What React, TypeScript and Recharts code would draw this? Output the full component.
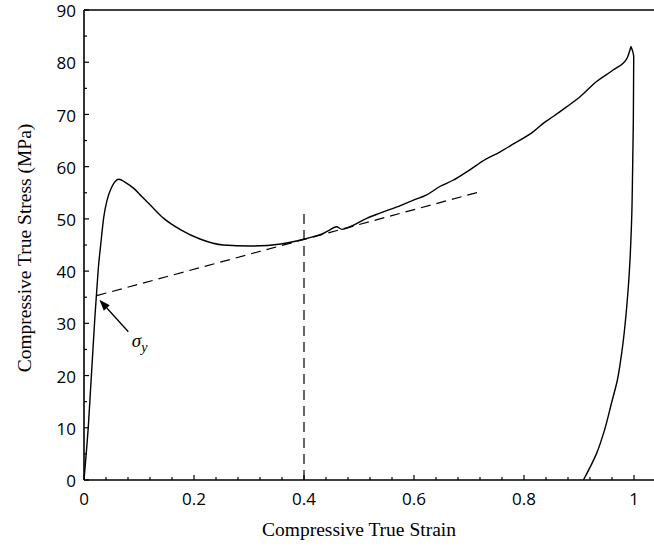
import {
  Customized,
  Line,
  LineChart,
  ReferenceDot,
  ReferenceLine,
  XAxis,
  YAxis,
} from "recharts";

// Loading branch (strain increasing up to the peak)
const loadStrain = [
  0, 0.004, 0.008, 0.012, 0.016, 0.02, 0.023, 0.026, 0.03, 0.036, 0.042, 0.05,
  0.0636, 0.075, 0.091, 0.105, 0.121, 0.145, 0.176, 0.212, 0.253, 0.303, 0.358,
  0.399, 0.417, 0.435, 0.447, 0.459, 0.469, 0.484, 0.514, 0.538, 0.569, 0.599,
  0.623, 0.647, 0.671, 0.7, 0.73, 0.756, 0.78, 0.817, 0.835, 0.853, 0.878,
  0.902, 0.932, 0.962, 0.987, 0.9945,
];
const loadStress = [
  0, 5, 10.5, 17.5, 24.5, 31.5, 36, 40.5, 44.7, 50.4, 53.6, 56, 57.6, 57.0,
  55.8, 54.3, 52.6, 50.1, 47.9, 46.1, 45.0, 44.8, 45.2, 46.1, 46.6, 47.2, 47.9,
  48.5, 48.0, 48.5, 50.1, 51.1, 52.3, 53.6, 54.6, 56.2, 57.4, 59.3, 61.4, 62.8,
  64.3, 66.7, 68.3, 69.6, 71.5, 73.4, 76.3, 78.5, 80.7, 83.0,
];

// Unloading branch (stress falling back to zero)
const unloadStrain = [
  0.9945, 0.9995, 0.9988, 0.9975, 0.9957, 0.9897, 0.9776, 0.9697, 0.959, 0.9465,
  0.932, 0.908,
];
const unloadStress = [83.0, 81, 68.9, 59.4, 49.8, 37, 24.3, 19.1, 14.7, 9.6, 5.1, 0];

// Hardening slope fit and the strain where it is evaluated
const fitStart = { strain: 0.023, stress: 35.3 };
const fitEnd = { strain: 0.72, stress: 55.2 };
const markerStrain = 0.4;
const markerTop = 51.5;

// Yield point callout
const yieldTip = { strain: 0.028, stress: 34.5 };
const yieldTail = { strain: 0.0806, stress: 28.4 };
const yieldLabelAt = { strain: 0.087, stress: 25.5 };

const strainMajor = [0, 0.2, 0.4, 0.6, 0.8, 1];
const strainLabels = ["0", "0.2", "0.4", "0.6", "0.8", "1"];
const strainTicks = Array.from({ length: 26 }, (_, i) => +(i * 0.04).toFixed(2));
const stressMajor = [0, 10, 20, 30, 40, 50, 60, 70, 80, 90];
const stressTicks = Array.from({ length: 19 }, (_, i) => i * 5);

const loading = loadStrain.map((s, i) => ({ strain: s, stress: loadStress[i] }));
const unloading = unloadStrain.map((s, i) => ({ strain: s, stress: unloadStress[i] }));

const W = 654;
const H = 546;
const LEFT = 84;
const TOP = 10;
const BOTTOM = 480;
const tickFont = "'Open Sans', sans-serif";
const titleFont = "'Liberation Serif', 'DejaVu Serif', serif";

const isMajorStrain = (v: number) => strainMajor.some((m) => Math.abs(m - v) < 1e-6);

const BottomTick = ({ x, payload }: any) => {
  const i = strainMajor.findIndex((m) => Math.abs(m - payload.value) < 1e-6);
  const major = i >= 0;
  return (
    <g>
      <line x1={x} x2={x} y1={BOTTOM} y2={BOTTOM - (major ? 5 : 3)} stroke="#000" strokeWidth={1.2} />
      {major && (
        <text x={x} y={BOTTOM + 25} textAnchor="middle" fontFamily={tickFont} fontSize={17} fill="#000">
          {strainLabels[i]}
        </text>
      )}
    </g>
  );
};

const TopTick = ({ x, payload }: any) => (
  <line
    x1={x}
    x2={x}
    y1={TOP}
    y2={TOP + (isMajorStrain(payload.value) ? 5 : 3)}
    stroke="#000"
    strokeWidth={1.2}
  />
);

const LeftTick = ({ y, payload }: any) => {
  const major = stressMajor.includes(payload.value);
  return (
    <g>
      <line x1={LEFT} x2={LEFT + (major ? 5 : 3)} y1={y} y2={y} stroke="#000" strokeWidth={1.2} />
      {major && (
        <text x={LEFT - 8} y={y + 1} dy="0.36em" textAnchor="end" fontFamily={tickFont} fontSize={17} fill="#000">
          {payload.value}
        </text>
      )}
    </g>
  );
};

const Arrow = ({ x1, y1, x2, y2 }: any) => {
  const a = Math.atan2(y2 - y1, x2 - x1);
  const len = 11;
  const half = 4;
  const bx = x2 - len * Math.cos(a);
  const by = y2 - len * Math.sin(a);
  const px = -Math.sin(a) * half;
  const py = Math.cos(a) * half;
  return (
    <g>
      <line x1={x1} y1={y1} x2={bx} y2={by} stroke="#000" strokeWidth={1.3} />
      <polygon points={`${x2},${y2} ${bx + px},${by + py} ${bx - px},${by - py}`} fill="#000" />
    </g>
  );
};

const SigmaLabel = ({ cx, cy }: any) => (
  <text x={cx} y={cy} fontFamily={titleFont} fontStyle="italic" fontSize={19} fill="#000">
    σ
    <tspan fontSize={14} dy={5}>
      y
    </tspan>
  </text>
);

const Titles = () => (
  <g fontFamily={titleFont} fontSize={19.5} fill="#000">
    <text x={359} y={536} textAnchor="middle">
      Compressive True Strain
    </text>
    <text x={31} y={248} textAnchor="middle" transform="rotate(-90 31 248)">
      Compressive True Stress (MPa)
    </text>
  </g>
);

export default function App() {
  const xMax = (W - LEFT) / 550;
  return (
    <div style={{ position: "absolute", left: 0, top: 0, width: W, height: H, overflow: "hidden", background: "#fff" }}>
      <LineChart width={W} height={H} margin={{ top: 0, right: 0, bottom: 10, left: 24 }}>
        <XAxis
          xAxisId={0}
          type="number"
          dataKey="strain"
          domain={[0, xMax]}
          ticks={strainTicks}
          interval={0}
          tickSize={0}
          tick={<BottomTick />}
          axisLine={{ stroke: "#000", strokeWidth: 1.6 }}
          height={56}
          allowDataOverflow
        />
        <XAxis
          xAxisId="top"
          orientation="top"
          type="number"
          domain={[0, xMax]}
          ticks={strainTicks}
          interval={0}
          tickSize={0}
          tick={<TopTick />}
          axisLine={{ stroke: "#000", strokeWidth: 1.6 }}
          height={10}
          allowDataOverflow
        />
        <YAxis
          type="number"
          domain={[0, 90]}
          ticks={stressTicks}
          interval={0}
          tickSize={0}
          tick={<LeftTick />}
          axisLine={{ stroke: "#000", strokeWidth: 1.6 }}
          width={60}
        />
        <ReferenceLine
          segment={[
            { x: markerStrain, y: 0 },
            { x: markerStrain, y: markerTop },
          ]}
          stroke="#000"
          strokeWidth={1.2}
          strokeDasharray="10 6"
        />
        <ReferenceLine
          segment={[
            { x: fitStart.strain, y: fitStart.stress },
            { x: fitEnd.strain, y: fitEnd.stress },
          ]}
          stroke="#000"
          strokeWidth={1.2}
          strokeDasharray="10 6"
        />
        <Line
          data={loading}
          dataKey="stress"
          type="monotone"
          stroke="#000"
          strokeWidth={1.4}
          dot={false}
          isAnimationActive={false}
        />
        <Line
          data={unloading}
          dataKey="stress"
          type="monotoneY"
          stroke="#000"
          strokeWidth={1.4}
          dot={false}
          isAnimationActive={false}
        />
        <ReferenceLine
          segment={[
            { x: yieldTail.strain, y: yieldTail.stress },
            { x: yieldTip.strain, y: yieldTip.stress },
          ]}
          shape={<Arrow />}
        />
        <ReferenceDot x={yieldLabelAt.strain} y={yieldLabelAt.stress} r={0} shape={<SigmaLabel />} />
        <Customized component={Titles} />
      </LineChart>
    </div>
  );
}
